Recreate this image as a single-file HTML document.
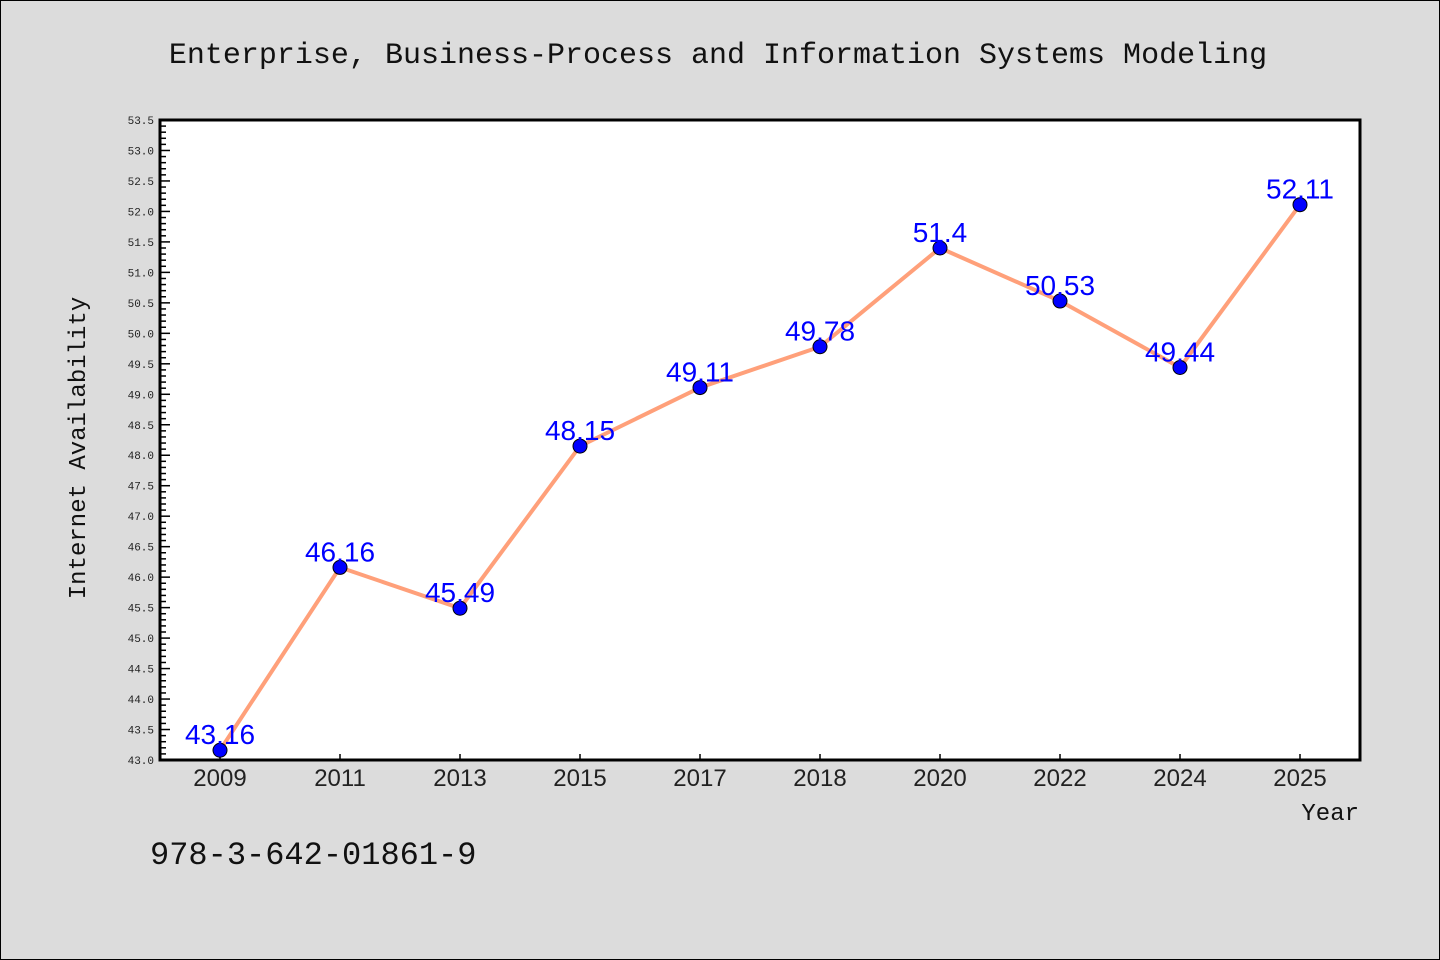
<!DOCTYPE html>
<html><head><meta charset="utf-8"><style>
body{margin:0;background:#dcdcdc;}
svg{display:block;font-family:"Liberation Mono","DejaVu Sans Mono",monospace;}
</style></head><body>
<svg id="c" width="1440" height="960">
<rect x="0.5" y="0.5" width="1439" height="959" fill="#dcdcdc" stroke="#000" stroke-width="1"/>
<text x="718" y="63" text-anchor="middle" font-size="30" fill="#111">Enterprise, Business-Process and Information Systems Modeling</text>
<rect x="160" y="120" width="1200" height="640" fill="#fff"/>
<g id="ticks"></g>
<g id="series"></g>
<rect x="160" y="120" width="1200" height="640" fill="none" stroke="#000" stroke-width="3"/>
<text transform="translate(85,448) rotate(-90)" text-anchor="middle" font-size="24" fill="#111">Internet Availability</text>
<text x="1359" y="820" text-anchor="end" font-size="24" fill="#111">Year</text>
<text x="150" y="864" font-size="32" fill="#111">978-3-642-01861-9</text>
</svg>
<script>
const categories=["2009","2011","2013","2015","2017","2018","2020","2022","2024","2025"];
const values=[43.16,46.16,45.49,48.15,49.11,49.78,51.4,50.53,49.44,52.11];
const labels=["43.16","46.16","45.49","48.15","49.11","49.78","51.4","50.53","49.44","52.11"];
const yMin=43.0, yMax=53.5;
const L=160,R=1360,T=120,B=760;
const NS="http://www.w3.org/2000/svg";
const x=i=>L+(R-L)/categories.length*(i+0.5);
const y=v=>B-(v-yMin)/(yMax-yMin)*(B-T);
function mk(t,a,p){const e=document.createElementNS(NS,t);for(const k in a)e.setAttribute(k,a[k]);p.appendChild(e);return e;}
const tg=document.getElementById('ticks');
for(let k=0;k<=105;k++){
  const v=yMin+k*0.1, yy=y(v), major=k%5===0;
  const ln=mk('line',{x1:L,x2:L+(major?10:6),y1:yy,y2:yy,stroke:'#000','stroke-width':1.5},tg);
  
  
  if(major){
    const t=mk('text',{x:L-6,y:yy+4,'text-anchor':'end','font-size':11,fill:'#222'},tg);
    t.textContent=v.toFixed(1);
    
    
  }
}
categories.forEach((c,i)=>{
  const ln=mk('line',{x1:x(i),x2:x(i),y1:B,y2:B-6,stroke:'#000','stroke-width':1.5},tg);
  
  
  const t=mk('text',{x:x(i),y:B+26,'text-anchor':'middle','font-size':24,fill:'#222','font-family':'Liberation Sans, sans-serif'},tg);
  t.textContent=c;
  
  
});
const sg=document.getElementById('series');
const pl=mk('polyline',{points:values.map((v,i)=>x(i)+','+y(v)).join(' '),fill:'none',stroke:'#ffa07a','stroke-width':4},sg);


values.forEach((v,i)=>{
  const c=mk('circle',{cx:x(i),cy:y(v),r:7,fill:'#0000ff',stroke:'#000','stroke-width':1},sg);
  
  
  const t=mk('text',{x:x(i),y:y(v)-6,'text-anchor':'middle','font-size':28,fill:'#0000ff','font-family':'Liberation Sans, sans-serif'},sg);
  t.textContent=labels[i];
  
  
});
</script>
</body></html>
